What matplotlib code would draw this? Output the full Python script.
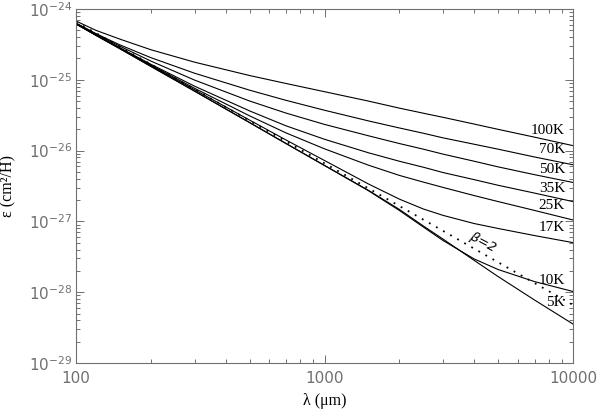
import numpy as np
import matplotlib
matplotlib.use("Agg")
import matplotlib.pyplot as plt
from matplotlib.ticker import FixedLocator, FuncFormatter, LogLocator, NullFormatter

# wavelengths (micron) where the curves were read
wavelength = [100, 120, 150, 200, 300, 500, 700, 1000, 1500, 2000, 2500, 3000, 4000, 5000, 7000, 10000]

# log10 of emissivity (cm^2/H) for each temperature
log_eps = {
    "100K": [-24.17, -24.30, -24.425, -24.575, -24.751, -24.94, -25.052, -25.168, -25.30, -25.40, -25.472, -25.53, -25.625, -25.70, -25.81, -25.93],
    "70K":  [-24.20, -24.346, -24.506, -24.687, -24.907, -25.147, -25.29, -25.43, -25.58, -25.68, -25.755, -25.82, -25.91, -25.98, -26.09, -26.20],
    "50K":  [-24.20, -24.35, -24.525, -24.735, -25.004, -25.30, -25.47, -25.63, -25.79, -25.90, -25.98, -26.05, -26.15, -26.23, -26.34, -26.45],
    "35K":  [-24.21, -24.364, -24.548, -24.78, -25.09, -25.44, -25.65, -25.84, -26.03, -26.15, -26.235, -26.31, -26.41, -26.49, -26.60, -26.72],
    "25K":  [-24.21, -24.365, -24.55, -24.79, -25.12, -25.51, -25.75, -25.975, -26.205, -26.35, -26.445, -26.52, -26.635, -26.72, -26.845, -26.98],
    "17K":  [-24.21, -24.365, -24.55, -24.80, -25.14, -25.57, -25.85, -26.14, -26.47, -26.685, -26.825, -26.915, -27.03, -27.10, -27.20, -27.30],
    "10K":  [-24.21, -24.37, -24.56, -24.81, -25.16, -25.605, -25.90, -26.21, -26.565, -26.845, -27.08, -27.27, -27.53, -27.68, -27.85, -27.99],
    "5K":   [-24.21, -24.37, -24.56, -24.81, -25.16, -25.605, -25.90, -26.21, -26.56, -26.83, -27.065, -27.25, -27.55, -27.78, -28.11, -28.45],
}

# beta = 2 power law (dotted)
beta2_wavelength = [100, 10000]
beta2_log_eps = [-24.18, -28.18]

# curve labels: (label, log10 y position)
label_pos = [("100K", -25.71), ("70K", -25.99), ("50K", -26.26), ("35K", -26.53),
             ("25K", -26.78), ("17K", -27.09), ("10K", -27.83), ("5K", -28.14)]

grey = "#707070"
plt.rcParams["mathtext.fontset"] = "dejavusans"

fig = plt.figure(figsize=(6.0, 4.15), dpi=100)
ax = fig.add_axes([0.1267, 0.1253, 0.8283, 0.853])

for name, vals in log_eps.items():
    ax.plot(wavelength, 10.0 ** np.array(vals), color="black", lw=0.8)

ax.plot(beta2_wavelength, 10.0 ** np.array(beta2_log_eps), color="black",
        lw=1.3, linestyle=(0, (1, 3.5)))

ax.set_xscale("log")
ax.set_yscale("log")
ax.set_xlim(100, 10000)
ax.set_ylim(1e-29, 1e-24)

serif = ["Liberation Serif", "DejaVu Serif"]
for name, ly in label_pos:
    ax.text(9300, 10.0 ** ly, name, ha="right", va="center", fontsize=11,
            family=serif, color="black")

ax.text(4350, 10.0 ** -27.29, r"$\beta$=2", ha="center", va="center",
        fontsize=9.5, rotation=-28, family="DejaVu Sans", style="italic",
        color="black")

# ticks
ax.xaxis.set_major_locator(FixedLocator([100, 1000, 10000]))
ax.xaxis.set_major_formatter(FuncFormatter(lambda v, p: "%d" % v))
ax.xaxis.set_minor_locator(LogLocator(base=10, subs=np.arange(2, 10)))
ax.xaxis.set_minor_formatter(NullFormatter())
ax.yaxis.set_major_locator(FixedLocator([1e-29, 1e-28, 1e-27, 1e-26, 1e-25, 1e-24]))
ax.yaxis.set_major_formatter(FuncFormatter(lambda v, p: r"$10^{%d}$" % round(np.log10(v))))
ax.yaxis.set_minor_locator(LogLocator(base=10, subs=np.arange(2, 10)))
ax.yaxis.set_minor_formatter(NullFormatter())

ax.tick_params(which="both", direction="in", top=True, right=True, colors=grey,
               labelcolor=grey, labelsize=11, width=0.7)
ax.tick_params(which="major", length=5.5)
ax.tick_params(which="minor", length=3)
ax.tick_params(axis="x", which="major", pad=6)
ax.tick_params(axis="y", which="major", pad=2.5)
for sp in ax.spines.values():
    sp.set_color(grey)
    sp.set_linewidth(0.8)

ax.set_xlabel("\u03bb (\u03bcm)", fontsize=11.5, family=serif)
ax.set_ylabel("\u03b5 (cm\u00b2/H)", fontsize=11.5, family=serif)
ax.xaxis.set_label_coords(0.5, -0.085)
ax.yaxis.set_label_coords(-0.119, 0.5)

fig.savefig("out.png", dpi=100)
